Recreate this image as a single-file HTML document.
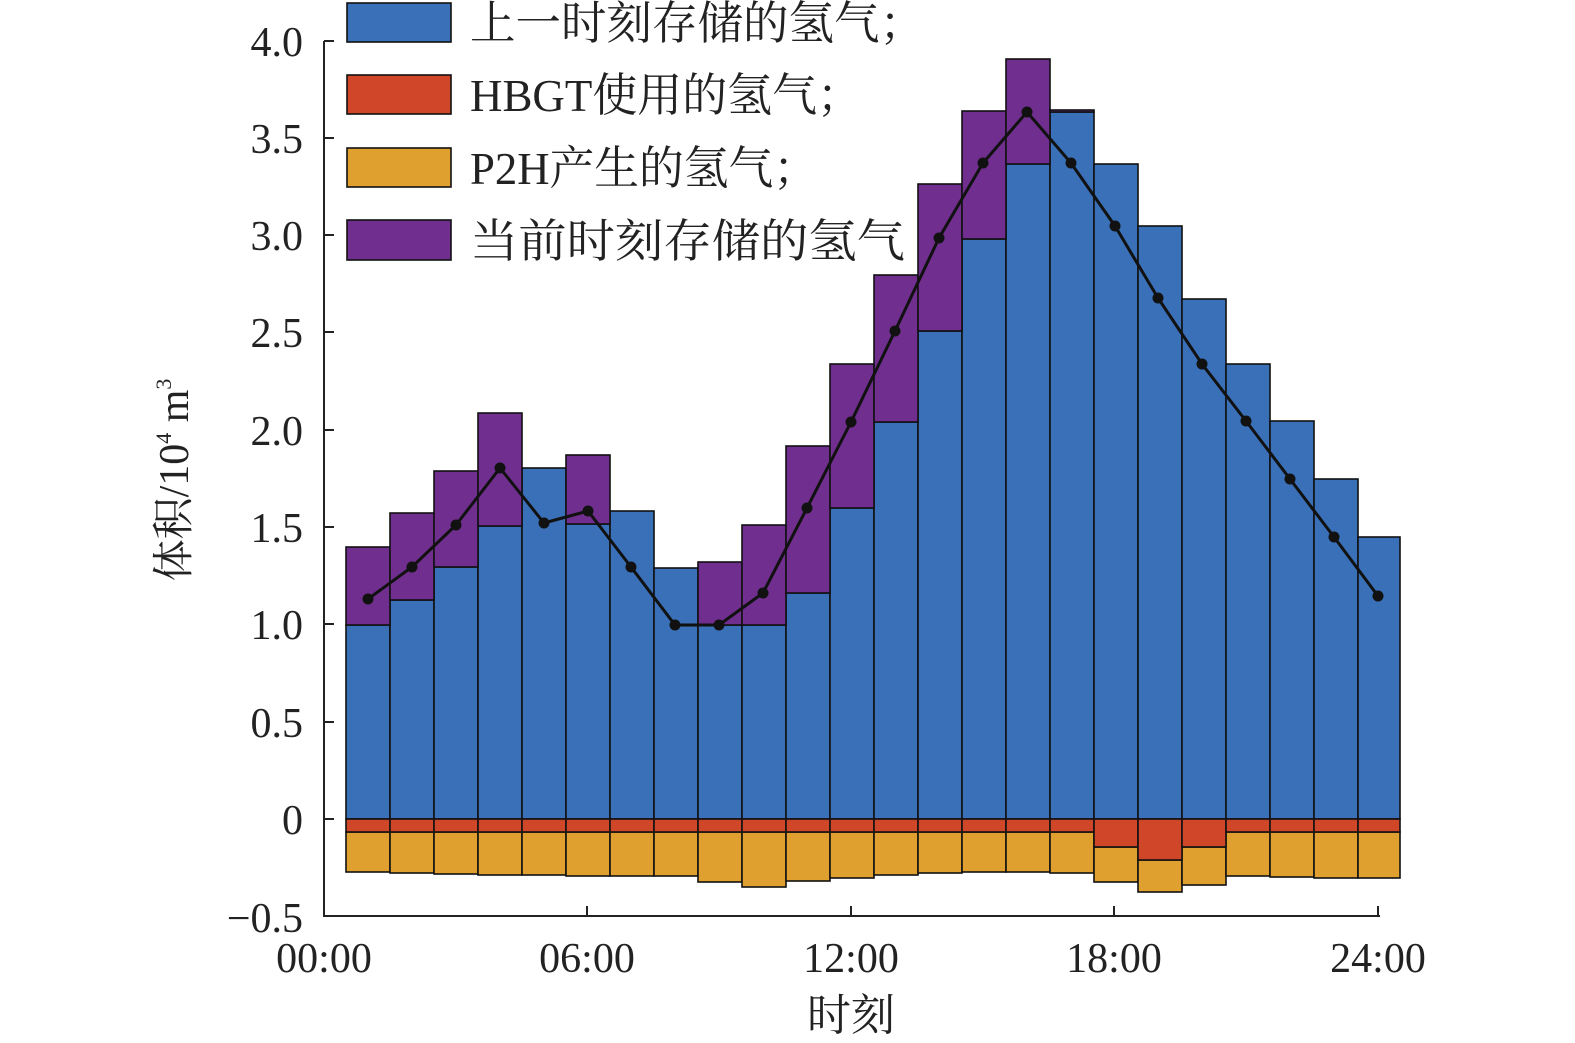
<!DOCTYPE html>
<html style="margin:0;overflow:hidden"><head><meta charset="utf-8"><style>html,body{margin:0;padding:0;overflow:hidden;background:#fff;width:1575px;height:1043px}svg{display:block}text{font-family:"Liberation Serif","Noto Serif CJK SC",serif;fill:#222}</style></head>
<body>
<svg width="1575" height="1043" viewBox="0 0 1575 1043" xmlns="http://www.w3.org/2000/svg">
<g stroke="#111" stroke-width="1.6">
<g fill="#3a70b8">
<rect x="346" y="625" width="44" height="194"/>
<rect x="390" y="600" width="44" height="219"/>
<rect x="434" y="567" width="44" height="252"/>
<rect x="478" y="526" width="44" height="293"/>
<rect x="522" y="468" width="44" height="351"/>
<rect x="566" y="524" width="44" height="295"/>
<rect x="610" y="511" width="44" height="308"/>
<rect x="654" y="568" width="44" height="251"/>
<rect x="698" y="625" width="44" height="194"/>
<rect x="742" y="625" width="44" height="194"/>
<rect x="786" y="593" width="44" height="226"/>
<rect x="830" y="508" width="44" height="311"/>
<rect x="874" y="422" width="44" height="397"/>
<rect x="918" y="331" width="44" height="488"/>
<rect x="962" y="239" width="44" height="580"/>
<rect x="1006" y="164" width="44" height="655"/>
<rect x="1050" y="112" width="44" height="707"/>
<rect x="1094" y="164" width="44" height="655"/>
<rect x="1138" y="226" width="44" height="593"/>
<rect x="1182" y="299" width="44" height="520"/>
<rect x="1226" y="364" width="44" height="455"/>
<rect x="1270" y="421" width="44" height="398"/>
<rect x="1314" y="479" width="44" height="340"/>
<rect x="1358" y="537" width="42" height="282"/>
</g>
<g fill="#702f8e">
<rect x="346" y="547" width="44" height="78"/>
<rect x="390" y="513" width="44" height="87"/>
<rect x="434" y="471" width="44" height="96"/>
<rect x="478" y="413" width="44" height="113"/>
<rect x="566" y="455" width="44" height="69"/>
<rect x="698" y="562" width="44" height="63"/>
<rect x="742" y="525" width="44" height="100"/>
<rect x="786" y="446" width="44" height="147"/>
<rect x="830" y="364" width="44" height="144"/>
<rect x="874" y="275" width="44" height="147"/>
<rect x="918" y="184" width="44" height="147"/>
<rect x="962" y="111" width="44" height="128"/>
<rect x="1006" y="59" width="44" height="105"/>
<rect x="1050" y="110" width="44" height="2"/>
</g>
<g fill="#e0a030">
<rect x="346" y="832" width="44" height="40"/>
<rect x="390" y="832" width="44" height="41"/>
<rect x="434" y="832" width="44" height="42"/>
<rect x="478" y="832" width="44" height="43"/>
<rect x="522" y="832" width="44" height="43"/>
<rect x="566" y="832" width="44" height="44"/>
<rect x="610" y="832" width="44" height="44"/>
<rect x="654" y="832" width="44" height="44"/>
<rect x="698" y="832" width="44" height="50"/>
<rect x="742" y="832" width="44" height="55"/>
<rect x="786" y="832" width="44" height="49"/>
<rect x="830" y="832" width="44" height="46"/>
<rect x="874" y="832" width="44" height="43"/>
<rect x="918" y="832" width="44" height="41"/>
<rect x="962" y="832" width="44" height="40"/>
<rect x="1006" y="832" width="44" height="40"/>
<rect x="1050" y="832" width="44" height="41"/>
<rect x="1094" y="847" width="44" height="35"/>
<rect x="1138" y="860" width="44" height="32"/>
<rect x="1182" y="847" width="44" height="38"/>
<rect x="1226" y="832" width="44" height="44"/>
<rect x="1270" y="832" width="44" height="45"/>
<rect x="1314" y="832" width="44" height="46"/>
<rect x="1358" y="832" width="42" height="46"/>
</g>
<g fill="#d04628">
<rect x="346" y="819" width="44" height="13"/>
<rect x="390" y="819" width="44" height="13"/>
<rect x="434" y="819" width="44" height="13"/>
<rect x="478" y="819" width="44" height="13"/>
<rect x="522" y="819" width="44" height="13"/>
<rect x="566" y="819" width="44" height="13"/>
<rect x="610" y="819" width="44" height="13"/>
<rect x="654" y="819" width="44" height="13"/>
<rect x="698" y="819" width="44" height="13"/>
<rect x="742" y="819" width="44" height="13"/>
<rect x="786" y="819" width="44" height="13"/>
<rect x="830" y="819" width="44" height="13"/>
<rect x="874" y="819" width="44" height="13"/>
<rect x="918" y="819" width="44" height="13"/>
<rect x="962" y="819" width="44" height="13"/>
<rect x="1006" y="819" width="44" height="13"/>
<rect x="1050" y="819" width="44" height="13"/>
<rect x="1094" y="819" width="44" height="28"/>
<rect x="1138" y="819" width="44" height="41"/>
<rect x="1182" y="819" width="44" height="28"/>
<rect x="1226" y="819" width="44" height="13"/>
<rect x="1270" y="819" width="44" height="13"/>
<rect x="1314" y="819" width="44" height="13"/>
<rect x="1358" y="819" width="42" height="13"/>
</g>
</g>
<polyline fill="none" stroke="#111" stroke-width="3" points="368,599 412,567 456,525 500,468 544,523 588,511 631,567 675,625 719,625 763,593 807,508 851,422 895,331 939,238 983,163 1027,112 1071,163 1115,226 1158,298 1202,364 1246,421 1290,479 1334,537 1378,596"/>
<g fill="#111">
<circle cx="368" cy="599" r="5.5"/><circle cx="412" cy="567" r="5.5"/><circle cx="456" cy="525" r="5.5"/><circle cx="500" cy="468" r="5.5"/><circle cx="544" cy="523" r="5.5"/><circle cx="588" cy="511" r="5.5"/><circle cx="631" cy="567" r="5.5"/><circle cx="675" cy="625" r="5.5"/><circle cx="719" cy="625" r="5.5"/><circle cx="763" cy="593" r="5.5"/><circle cx="807" cy="508" r="5.5"/><circle cx="851" cy="422" r="5.5"/><circle cx="895" cy="331" r="5.5"/><circle cx="939" cy="238" r="5.5"/><circle cx="983" cy="163" r="5.5"/><circle cx="1027" cy="112" r="5.5"/><circle cx="1071" cy="163" r="5.5"/><circle cx="1115" cy="226" r="5.5"/><circle cx="1158" cy="298" r="5.5"/><circle cx="1202" cy="364" r="5.5"/><circle cx="1246" cy="421" r="5.5"/><circle cx="1290" cy="479" r="5.5"/><circle cx="1334" cy="537" r="5.5"/><circle cx="1378" cy="596" r="5.5"/>
</g>
<g stroke="#222" stroke-width="2" fill="none">
<line x1="324" y1="41" x2="324" y2="917"/>
<line x1="323" y1="916" x2="1380" y2="916"/>
<line x1="587" y1="916" x2="587" y2="906"/>
<line x1="851" y1="916" x2="851" y2="906"/>
<line x1="1114" y1="916" x2="1114" y2="906"/>
<line x1="1378" y1="916" x2="1378" y2="906"/>
<line x1="324" x2="334" y1="819" y2="819"/><line x1="324" x2="334" y1="722" y2="722"/><line x1="324" x2="334" y1="624" y2="624"/><line x1="324" x2="334" y1="527" y2="527"/><line x1="324" x2="334" y1="430" y2="430"/><line x1="324" x2="334" y1="332" y2="332"/><line x1="324" x2="334" y1="235" y2="235"/><line x1="324" x2="334" y1="138" y2="138"/><line x1="324" x2="334" y1="41" y2="41"/>
</g>
<g font-size="42" text-anchor="end">
<text x="303" y="932">−0.5</text><text x="303" y="834">0</text><text x="303" y="737">0.5</text><text x="303" y="639">1.0</text><text x="303" y="542">1.5</text><text x="303" y="445">2.0</text><text x="303" y="347">2.5</text><text x="303" y="250">3.0</text><text x="303" y="153">3.5</text><text x="303" y="56">4.0</text>
</g>
<g font-size="42" text-anchor="middle">
<text x="324" y="972">00:00</text><text x="587" y="972">06:00</text><text x="851" y="972">12:00</text><text x="1114" y="972">18:00</text><text x="1378" y="972">24:00</text>
<text x="851" y="1030" font-size="44">时刻</text>
</g>
<text font-size="42" transform="translate(188,480) rotate(-90)" text-anchor="middle">体积/10<tspan font-size="22" dy="-17">4</tspan><tspan dy="17"> m</tspan><tspan font-size="22" dy="-17">3</tspan></text>
<g stroke="#111" stroke-width="1.6">
<rect x="347" y="3" width="104" height="39" fill="#3a70b8"/>
<rect x="347" y="75" width="104" height="39" fill="#d04628"/>
<rect x="347" y="148" width="104" height="39" fill="#e0a030"/>
<rect x="347" y="220" width="104" height="40" fill="#702f8e"/>
</g>
<g font-size="46">
<text x="470" y="39" textLength="455" lengthAdjust="spacingAndGlyphs">上一时刻存储的氢气；</text>
<text x="470" y="111" textLength="392" lengthAdjust="spacingAndGlyphs">HBGT使用的氢气；</text>
<text x="470" y="184" textLength="348" lengthAdjust="spacingAndGlyphs">P2H产生的氢气；</text>
<text x="470" y="257" textLength="435" lengthAdjust="spacingAndGlyphs">当前时刻存储的氢气</text>
</g>
</svg>
</body></html>
